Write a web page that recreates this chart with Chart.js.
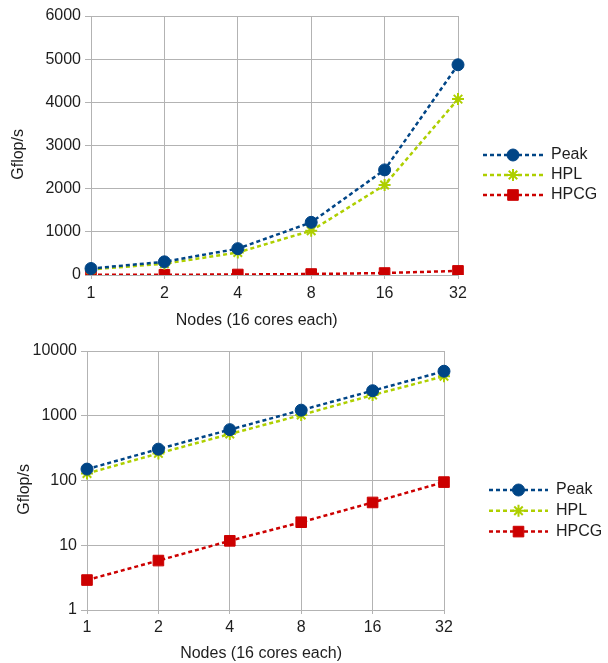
<!DOCTYPE html>
<html>
<head>
<meta charset="utf-8">
<script src="https://cdn.jsdelivr.net/npm/chart.js@4.4.0/dist/chart.umd.min.js"></script>
<style>
  html, body { margin: 0; padding: 0; background: #fff; }
  #wrap { position: relative; width: 608px; height: 663px; }
  canvas { position: absolute; left: 0; }
  #linChart { top: 0; }
  #logChart { top: 330px; }
</style>
</head>
<body>
<div id="wrap">
  <canvas id="linChart" width="608" height="330"></canvas>
  <canvas id="logChart" width="608" height="333"></canvas>
</div>
<script>
// =====================
// Data
// =====================
const nodes = ["1", "2", "4", "8", "16", "32"];
const peak = [150, 305, 610, 1220, 2435, 4870];
const hpl = [128, 262, 522, 1026, 2085, 4075];
const hpcg = [2.9, 5.8, 11.7, 22.7, 45.8, 94.5];
const linTicks = [0, 1000, 2000, 3000, 4000, 5000, 6000];
const logTicks = [1, 10, 100, 1000, 10000];

const gridColor = "#b3b3b3";
const textColor = "#1e1e1e";
const font = { family: "'Liberation Sans', Arial, sans-serif", size: 16 };

// trailing spaces nudge the centred axis titles a little (as in the original)
function pad(str, n) { return str + " ".repeat(n); }

function makeDatasets() {
  return [
    {
      label: "Peak", data: peak,
      borderColor: "#004586", backgroundColor: "#004586",
      pointBackgroundColor: "#004586", pointBorderColor: "#004586",
      pointStyle: "circle", pointRadius: 6, pointBorderWidth: 1
    },
    {
      label: "HPL", data: hpl,
      borderColor: "#aecf00", backgroundColor: "#aecf00",
      pointBackgroundColor: "#aecf00", pointBorderColor: "#aecf00",
      pointStyle: "star", pointRadius: 6, pointBorderWidth: 2
    },
    {
      label: "HPCG", data: hpcg,
      borderColor: "#cc0000", backgroundColor: "#cc0000",
      pointBackgroundColor: "#cc0000", pointBorderColor: "#cc0000",
      pointStyle: "rect", pointRadius: 7.5, pointBorderWidth: 1
    }
  ].map(ds => Object.assign(ds, { borderWidth: 2.5, borderDash: [4, 3], tension: 0, fill: false }));
}

// =====================
// Legend: dashed line with marker in the middle
// =====================
const lineLegend = {
  id: "lineLegend",
  afterDraw(chart, args, opts) {
    const ctx = chart.ctx;
    chart.data.datasets.forEach((ds, i) => {
      const y = opts.y + i * opts.gap;
      ctx.save();
      ctx.strokeStyle = ds.borderColor;
      ctx.lineWidth = ds.borderWidth;
      ctx.setLineDash(ds.borderDash);
      ctx.beginPath();
      ctx.moveTo(opts.x, y);
      ctx.lineTo(opts.x + opts.len, y);
      ctx.stroke();
      ctx.setLineDash([]);
      ctx.fillStyle = ds.pointBackgroundColor;
      ctx.strokeStyle = ds.pointBorderColor;
      ctx.lineWidth = ds.pointBorderWidth;
      Chart.helpers.drawPoint(ctx, {
        pointStyle: ds.pointStyle, radius: ds.pointRadius,
        borderWidth: ds.pointBorderWidth, rotation: 0
      }, opts.x + opts.len / 2, y);
      ctx.fillStyle = textColor;
      ctx.font = font.size + "px " + font.family;
      ctx.textBaseline = "middle";
      ctx.textAlign = "left";
      ctx.fillText(ds.label, opts.x + opts.len + opts.textGap, y);
      ctx.restore();
    });
  }
};

function buildChart(id, cfg) {
  new Chart(document.getElementById(id), {
    type: "line",
    data: { labels: nodes, datasets: makeDatasets() },
    plugins: [lineLegend],
    options: {
      responsive: false,
      animation: false,
      layout: { padding: { top: cfg.padTop, right: cfg.padRight, left: 0, bottom: 0 } },
      plugins: {
        legend: { display: false },
        tooltip: { enabled: false },
        lineLegend: cfg.legend
      },
      scales: {
        x: {
          type: "category",
          offset: false,
          grid: { color: gridColor, tickLength: 4 },
          border: { color: gridColor },
          ticks: { color: textColor, font: font, padding: cfg.xPad, maxRotation: 0 },
          title: { display: true, text: pad("Nodes (16 cores each)", cfg.xShift), color: textColor, font: font, padding: 0 },
          afterFit: s => { s.height = cfg.xHeight; }
        },
        y: cfg.y
      }
    }
  });
}

// =====================
// Linear chart
// =====================
buildChart("linChart", {
  padTop: 16, padRight: 150, xHeight: 55, xPad: 5, xShift: 8,
  legend: { x: 483, y: 155, gap: 20, len: 60, textGap: 8 },
  y: {
    type: "linear",
    min: 0, max: 6000,
    afterBuildTicks: s => { s.ticks = linTicks.map(v => ({ value: v })); },
    grid: { color: gridColor, tickLength: 6 },
    border: { color: gridColor },
    ticks: { color: textColor, font: font, padding: 4, callback: v => String(v) },
    title: { display: true, text: pad("Gflop/s", 4), color: textColor, font: font, padding: { top: 9, bottom: 0 } },
    afterFit: s => { s.width = 91; }
  }
});

// =====================
// Log chart
// =====================
buildChart("logChart", {
  padTop: 21, padRight: 164, xHeight: 53, xPad: 4, xShift: 2,
  legend: { x: 489, y: 160, gap: 20.8, len: 59, textGap: 8 },
  y: {
    type: "logarithmic",
    min: 1, max: 10000,
    afterBuildTicks: s => { s.ticks = logTicks.map(v => ({ value: v })); },
    grid: { color: gridColor, tickLength: 6 },
    border: { color: gridColor },
    ticks: { color: textColor, font: font, padding: 4, callback: v => String(v) },
    title: { display: true, text: pad("Gflop/s", 4), color: textColor, font: font, padding: { top: 15, bottom: 0 } },
    afterFit: s => { s.width = 87; }
  }
});
</script>
</body>
</html>
